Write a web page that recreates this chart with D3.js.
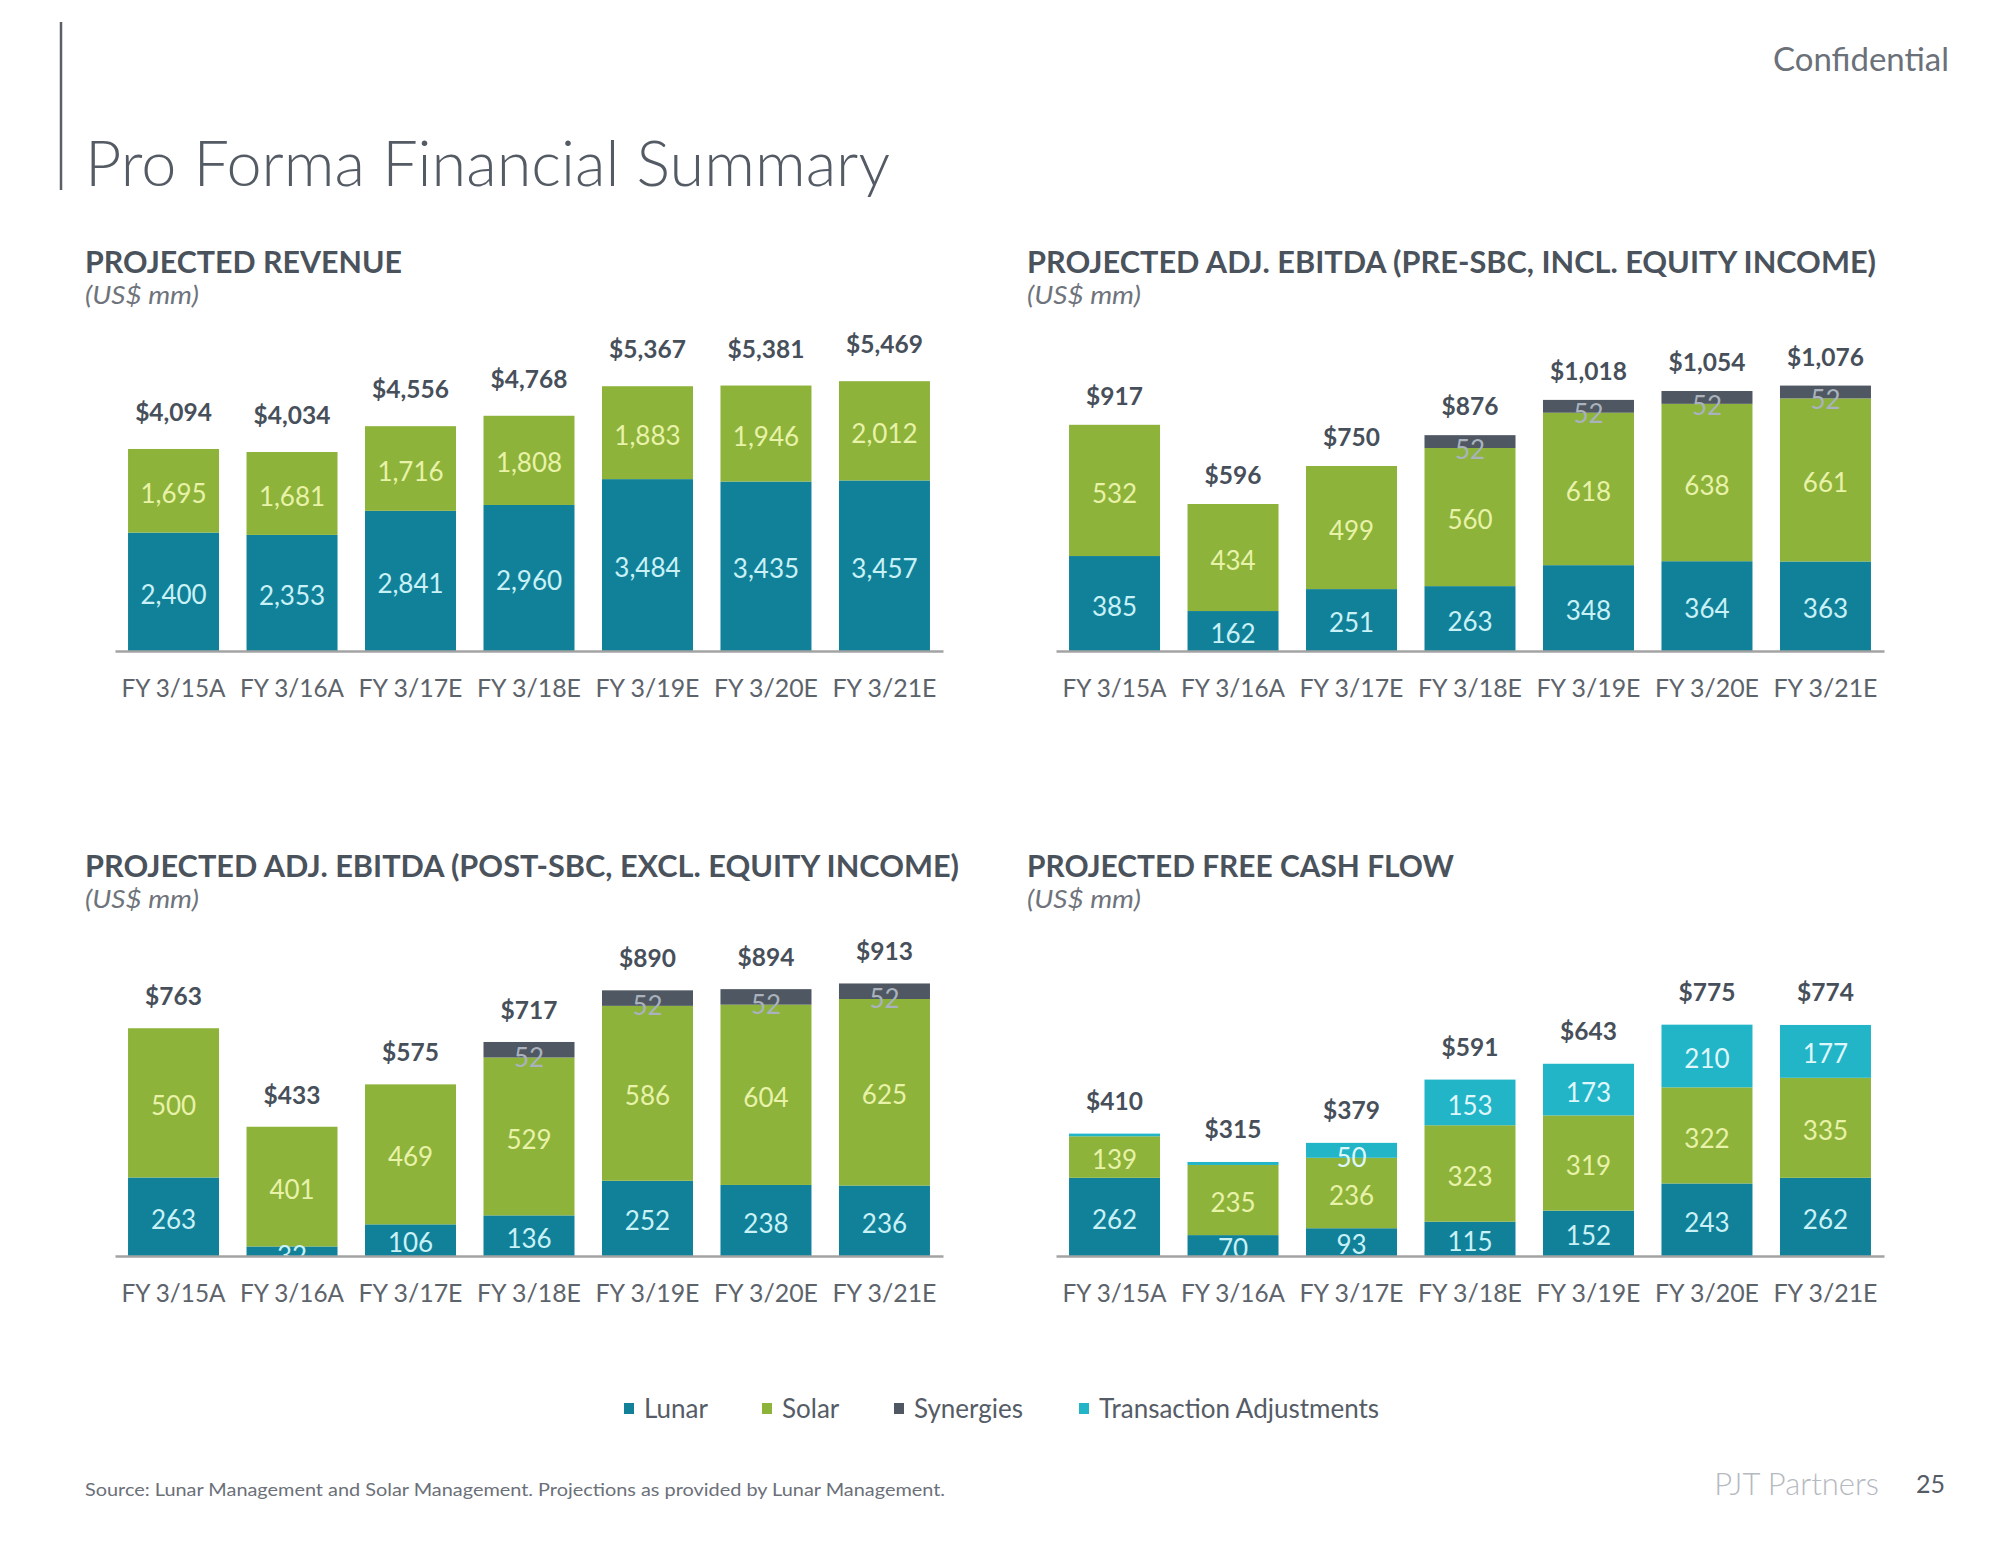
<!DOCTYPE html>
<html>
<head>
<meta charset="utf-8">
<script src="https://cdn.jsdelivr.net/npm/d3@7/dist/d3.min.js"></script>
<style>
  html, body { margin: 0; padding: 0; background: #ffffff; }
  svg { display: block; font-family: Lato, "Open Sans", sans-serif; }
</style>
</head>
<body>
<svg id="chart" width="2000" height="1545"></svg>
<script>
// ---------------- DATA ----------------
const categories = ["FY 3/15A", "FY 3/16A", "FY 3/17E", "FY 3/18E", "FY 3/19E", "FY 3/20E", "FY 3/21E"];

// Projected Revenue
const revenueLunar  = [2400, 2353, 2841, 2960, 3484, 3435, 3457];
const revenueSolar  = [1695, 1681, 1716, 1808, 1883, 1946, 2012];
const revenueTotals = ["$4,094", "$4,034", "$4,556", "$4,768", "$5,367", "$5,381", "$5,469"];

// Projected Adj. EBITDA (Pre-SBC, incl. equity income)
const preLunar     = [385, 162, 251, 263, 348, 364, 363];
const preSolar     = [532, 434, 499, 560, 618, 638, 661];
const preSynergies = [0, 0, 0, 52, 52, 52, 52];
const preTotals    = ["$917", "$596", "$750", "$876", "$1,018", "$1,054", "$1,076"];

// Projected Adj. EBITDA (Post-SBC, excl. equity income)
const postLunar     = [263, 32, 106, 136, 252, 238, 236];
const postSolar     = [500, 401, 469, 529, 586, 604, 625];
const postSynergies = [0, 0, 0, 52, 52, 52, 52];
const postTotals    = ["$763", "$433", "$575", "$717", "$890", "$894", "$913"];

// Projected Free Cash Flow
const fcfLunar = [262, 70, 93, 115, 152, 243, 262];
const fcfSolar = [139, 235, 236, 323, 319, 322, 335];
const fcfTransactionAdj = [9, 10, 50, 153, 173, 210, 177];
const fcfTotals = ["$410", "$315", "$379", "$591", "$643", "$775", "$774"];

const legendItems = ["Lunar", "Solar", "Synergies", "Transaction Adjustments"];

// ---------------- STYLE ----------------
const COLORS = {
  Lunar: "#11819a",
  Solar: "#8db33b",
  Synergies: "#4f5762",
  "Transaction Adjustments": "#22b5c8"
};
const LABEL_COLORS = {
  Lunar: "#c9f1f6",
  Solar: "#e8f2a8",
  Synergies: "#a9b2bd",
  "Transaction Adjustments": "#dff7fa"
};
const DARK = "#47505a";

const svg = d3.select("#chart");

// Header
svg.append("line").attr("x1", 61).attr("x2", 61).attr("y1", 22).attr("y2", 190)
  .attr("stroke", "#5a5f66").attr("stroke-width", 2.5);
svg.append("text").attr("x", 85).attr("y", 186)
  .attr("font-size", 64).attr("font-weight", 300).attr("fill", "#545b65")
  .attr("textLength", 805).attr("lengthAdjust", "spacingAndGlyphs")
  .text("Pro Forma Financial Summary");
svg.append("text").attr("x", 1949).attr("y", 71).attr("text-anchor", "end")
  .attr("font-size", 32).attr("fill", "#6b7079")
  .attr("textLength", 176).attr("lengthAdjust", "spacingAndGlyphs")
  .text("Confidential");

// ---------------- CHARTS ----------------
const charts = [
  {
    title: "PROJECTED REVENUE", titleWidth: 317,
    tx: 85, ty: 273, x0: 115, axisY: 651, domainMax: 6000, plotH: 296, totalOffset: 28,
    series: [
      { name: "Lunar", values: revenueLunar },
      { name: "Solar", values: revenueSolar }
    ],
    totals: revenueTotals
  },
  {
    title: "PROJECTED ADJ. EBITDA (PRE-SBC, INCL. EQUITY INCOME)", titleWidth: 849,
    tx: 1027, ty: 273, x0: 1056, axisY: 651, domainMax: 1200, plotH: 296, totalOffset: 20,
    series: [
      { name: "Lunar", values: preLunar },
      { name: "Solar", values: preSolar },
      { name: "Synergies", values: preSynergies }
    ],
    totals: preTotals
  },
  {
    title: "PROJECTED ADJ. EBITDA (POST-SBC, EXCL. EQUITY INCOME)", titleWidth: 874,
    tx: 85, ty: 877, x0: 115, axisY: 1256, domainMax: 1000, plotH: 298.5, totalOffset: 23,
    series: [
      { name: "Lunar", values: postLunar },
      { name: "Solar", values: postSolar },
      { name: "Synergies", values: postSynergies }
    ],
    totals: postTotals
  },
  {
    title: "PROJECTED FREE CASH FLOW", titleWidth: 427,
    tx: 1027, ty: 877, x0: 1056, axisY: 1256, domainMax: 1000, plotH: 298.5, totalOffset: 24,
    series: [
      { name: "Lunar", values: fcfLunar },
      { name: "Solar", values: fcfSolar },
      { name: "Transaction Adjustments", values: fcfTransactionAdj }
    ],
    totals: fcfTotals
  }
];

charts.forEach((c, ci) => {
  const g = svg.append("g");

  // titles
  g.append("text").attr("x", c.tx).attr("y", c.ty)
    .attr("font-size", 30).attr("font-weight", 700).attr("fill", "#4a525c")
    .attr("textLength", c.titleWidth).attr("lengthAdjust", "spacingAndGlyphs")
    .text(c.title);
  g.append("text").attr("x", c.tx).attr("y", c.ty + 31)
    .attr("font-size", 26).attr("font-style", "italic").attr("fill", "#6f747c")
    .attr("textLength", 114).attr("lengthAdjust", "spacingAndGlyphs")
    .text("(US$ mm)");

  const x = d3.scaleBand().domain(categories)
    .range([c.x0, c.x0 + 828])
    .paddingInner(0.232).paddingOuter(0.11);
  const y = d3.scaleLinear().domain([0, c.domainMax]).range([c.axisY, c.axisY - c.plotH]);

  // stack
  const rows = categories.map((cat, i) => {
    const r = { cat };
    c.series.forEach(s => r[s.name] = s.values[i]);
    return r;
  });
  const stack = d3.stack().keys(c.series.map(s => s.name))(rows);

  const clipId = "clip" + ci;
  svg.append("clipPath").attr("id", clipId).append("rect")
    .attr("x", c.x0 - 20).attr("y", c.axisY - c.plotH - 60)
    .attr("width", 880).attr("height", c.plotH + 60);

  stack.forEach(layer => {
    const name = layer.key;
    g.append("g").selectAll("rect").data(layer).join("rect")
      .attr("x", d => x(d.data.cat))
      .attr("width", x.bandwidth())
      .attr("y", d => y(d[1]))
      .attr("height", d => Math.max(0, y(d[0]) - y(d[1])))
      .attr("fill", COLORS[name]);
  });

  // segment labels
  const lg = g.append("g").attr("clip-path", `url(#${clipId})`);
  stack.forEach(layer => {
    const name = layer.key;
    lg.append("g").selectAll("text").data(layer.filter(d => (d[1] - d[0]) >= 20)).join("text")
      .attr("x", d => x(d.data.cat) + x.bandwidth() / 2)
      .attr("y", d => {
        const h = y(d[0]) - y(d[1]);
        const mid = (y(d[0]) + y(d[1])) / 2;
        const dy = h < 12 ? 5 : (h < 18 ? 8 : 3);
        return mid + dy;
      })
      .attr("dy", "0.35em")
      .attr("text-anchor", "middle")
      .attr("font-size", 26)
      .attr("fill", LABEL_COLORS[name])
      .text(d => d3.format(",")(d[1] - d[0]));
  });

  // totals
  const top = stack[stack.length - 1];
  g.append("g").selectAll("text").data(top).join("text")
    .attr("x", d => x(d.data.cat) + x.bandwidth() / 2)
    .attr("y", d => y(d[1]) - c.totalOffset)
    .attr("text-anchor", "middle")
    .attr("font-size", 24.5).attr("font-weight", 700).attr("fill", DARK)
    .text((d, i) => c.totals[i]);

  // axis
  const axis = g.append("g").attr("transform", `translate(0,${c.axisY})`)
    .call(d3.axisBottom(x).tickSize(0).tickSizeOuter(0));
  axis.select(".domain").attr("stroke", "#a3a3a3").attr("stroke-width", 2.5);
  axis.selectAll("text")
    .attr("y", 37).attr("dy", "0.35em")
    .attr("font-family", "Lato, 'Open Sans', sans-serif")
    .attr("font-size", 25).attr("fill", "#5d636b")
    .attr("textLength", 104).attr("lengthAdjust", "spacingAndGlyphs");
});

// ---------------- LEGEND ----------------
const legendX = [624, 762, 894, 1079];
const legend = svg.append("g");
legendItems.forEach((name, i) => {
  legend.append("rect").attr("x", legendX[i]).attr("y", 1403)
    .attr("width", 10).attr("height", 11).attr("fill", COLORS[name]);
  legend.append("text").attr("x", legendX[i] + 20).attr("y", 1409).attr("dy", "0.35em")
    .attr("font-size", 26).attr("fill", "#555c66").text(name);
});

// ---------------- FOOTER ----------------
svg.append("text").attr("x", 85).attr("y", 1490).attr("dy", "0.35em")
  .attr("font-size", 18).attr("fill", "#6b7079")
  .attr("textLength", 860).attr("lengthAdjust", "spacingAndGlyphs")
  .text("Source: Lunar Management and Solar Management. Projections as provided by Lunar Management.");
svg.append("text").attr("x", 1879).attr("y", 1484).attr("dy", "0.35em").attr("text-anchor", "end")
  .attr("font-size", 31).attr("font-weight", 300).attr("fill", "#b5b9c0")
  .text("PJT Partners");
svg.append("text").attr("x", 1945).attr("y", 1484).attr("dy", "0.35em").attr("text-anchor", "end")
  .attr("font-size", 25).attr("fill", "#555c66")
  .text("25");
</script>
</body>
</html>
